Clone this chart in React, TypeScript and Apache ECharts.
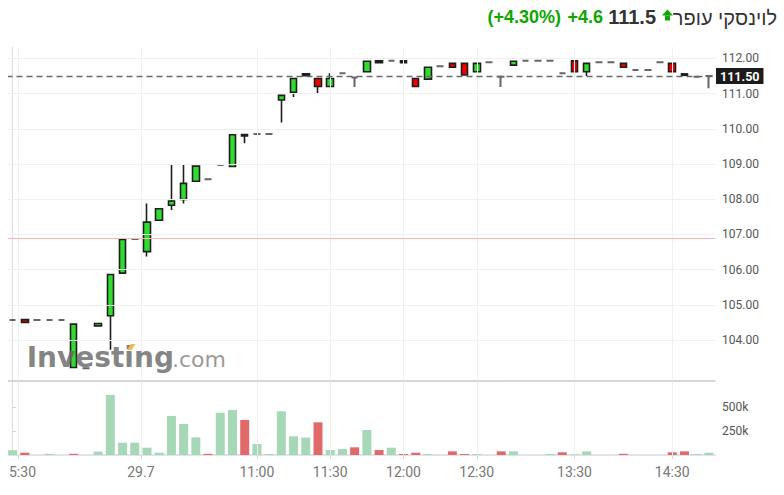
import React, { useEffect, useRef } from "react";
import * as echarts from "echarts";

const categories = [
  "28.7 15:25", "28.7 15:30", "28.7 15:35", "28.7 15:40", "28.7 15:45", "28.7 15:50",
  "28.7 15:55", "28.7 16:00", "28.7 16:05", "28.7 16:10", "28.7 16:15",
  "10:15", "10:20", "10:25", "10:30", "10:35", "10:40", "10:45", "10:50", "10:55", "11:00",
  "11:05", "11:10", "11:15", "11:20", "11:25", "11:30", "11:35", "11:40", "11:45", "11:50", "11:55", "12:00",
  "12:05", "12:10", "12:15", "12:20", "12:25", "12:30",
  "12:35", "12:40", "12:50", "13:00", "13:05", "13:15", "13:25", "13:30",
  "13:35", "13:45", "13:55", "14:00", "14:10", "14:15", "14:25", "14:30",
  "14:35", "14:40", "14:45",
];

// [open, close, low, high]
const candles: number[][] = [
  [104.57, 104.57, 104.57, 104.57],
  [104.58, 104.5, 104.5, 104.58],
  [104.57, 104.57, 104.57, 104.57],
  [104.57, 104.57, 104.57, 104.57],
  [104.57, 104.57, 104.57, 104.57],
  [103.22, 104.45, 103.22, 104.45],
  [103.2, 103.2, 103.2, 103.2],
  [104.4, 104.47, 104.4, 104.47],
  [104.69, 105.86, 103.72, 105.86],
  [105.9, 106.86, 105.9, 106.86],
  [106.87, 106.87, 106.87, 106.87],
  [106.51, 107.35, 106.37, 107.88],
  [107.4, 107.73, 107.4, 107.73],
  [107.83, 107.95, 107.69, 108.97],
  [107.99, 108.45, 107.88, 108.97],
  [108.51, 108.94, 108.51, 108.94],
  [108.57, 108.57, 108.57, 108.57],
  [108.97, 108.97, 108.97, 108.97],
  [108.93, 109.83, 108.93, 109.83],
  [109.84, 109.8, 109.59, 109.84],
  [109.85, 109.85, 109.85, 109.85],
  [109.85, 109.85, 109.85, 109.85],
  [110.82, 110.95, 110.18, 110.95],
  [111.04, 111.43, 110.9, 111.43],
  [111.51, 111.56, 111.51, 111.56],
  [111.43, 111.2, 111.01, 111.43],
  [111.2, 111.43, 111.2, 111.58],
  [111.58, 111.58, 111.58, 111.58],
  [111.46, 111.46, 111.19, 111.46],
  [111.62, 111.92, 111.62, 111.92],
  [111.93, 111.88, 111.88, 111.93],
  [111.93, 111.93, 111.93, 111.93],
  [111.93, 111.88, 111.88, 111.93],
  [111.43, 111.2, 111.2, 111.43],
  [111.41, 111.75, 111.41, 111.75],
  [111.78, 111.78, 111.78, 111.78],
  [111.86, 111.75, 111.75, 111.86],
  [111.86, 111.53, 111.53, 111.86],
  [111.62, 111.86, 111.62, 111.86],
  [111.89, 111.89, 111.89, 111.89],
  [111.48, 111.48, 111.19, 111.48],
  [111.81, 111.92, 111.81, 111.92],
  [111.93, 111.93, 111.93, 111.93],
  [111.93, 111.93, 111.93, 111.93],
  [111.93, 111.93, 111.93, 111.93],
  [111.58, 111.58, 111.58, 111.58],
  [111.93, 111.62, 111.62, 111.93],
  [111.62, 111.86, 111.5, 111.86],
  [111.89, 111.89, 111.89, 111.89],
  [111.89, 111.89, 111.89, 111.89],
  [111.86, 111.75, 111.75, 111.86],
  [111.67, 111.67, 111.67, 111.67],
  [111.67, 111.67, 111.67, 111.67],
  [111.89, 111.89, 111.89, 111.89],
  [111.86, 111.62, 111.62, 111.86],
  [111.56, 111.52, 111.52, 111.56],
  [111.48, 111.48, 111.48, 111.48],
  [111.5, 111.5, 111.15, 111.5],
];

// volume in thousands
const volumes = [
  50, 24, 0, 12, 0, 12, 0, 35, 625, 128, 128, 76, 24, 406, 323, 184, 12, 440, 469, 365,
  115, 10, 455, 195, 181, 340, 52, 62, 80, 260, 52, 76, 10, 24, 10, 0, 38, 10, 10, 0,
  38, 38, 0, 0, 10, 28, 8, 38, 0, 0, 12, 0, 0, 0, 28, 38, 8, 24,
];
// 1 = up (green), -1 = down (red)
const volumeDir = [
  1, -1, 1, 1, 1, -1, 1, 1, 1, 1, 1, 1, 1, 1, 1, 1, -1, 1, 1, -1,
  1, 1, 1, 1, 1, -1, 1, 1, -1, 1, -1, 1, -1, -1, 1, 1, -1, -1, 1, 1,
  -1, 1, 1, 1, 1, -1, 1, 1, 1, 1, -1, 1, 1, 1, -1, -1, 1, 1,
];

const priceTicks = [104, 105, 106, 107, 108, 109, 110, 111, 112];
const volumeTicks = [250, 500];
// time-axis gridlines/ticks, in candle-index units, and their labels
const xLabelAt = [0.5, 10.5, 20, 26, 32, 38, 46, 54];
const xLabelText = ["5:30", "29.7", "11:00", "11:30", "12:00", "12:30", "13:30", "14:30"];

const stockName = "לוינסקי עופר";
const lastPrice = 111.5;
const prevClose = 106.9;
const change = 4.6;
const changePct = 4.3;

export default function App() {
  const ref = useRef<HTMLDivElement>(null);

  useEffect(() => {
    if (!ref.current) return;
    const chart = echarts.init(ref.current, undefined, { renderer: "svg" });

    const n = categories.length;
    const green = "#0ea600";

    const candleData = candles.map((c) => {
      if (c[0] === c[1]) {
        return {
          value: c,
          itemStyle: {
            color: "#666",
            color0: "#666",
            borderColor: "#666",
            borderColor0: "#666",
            borderWidth: 2,
          },
        };
      }
      return { value: c };
    });

    const volData = volumes.map((v, i) => ({
      value: v,
      itemStyle: { color: volumeDir[i] > 0 ? "#a6d8b8" : "#e06a6a" },
    }));

    // the first label sits at the left edge; it is drawn as a graphic text so it stays inside
    const labelFor = (v: number) => {
      for (let k = 1; k < xLabelAt.length; k++) {
        if (Math.abs(xLabelAt[k] - v) < 1e-6) return xLabelText[k];
      }
      return "";
    };

    const option: any = {
      animation: false,
      grid: [
        { left: -1.5, right: 69, top: 47, bottom: 114, outerBoundsMode: "none", containLabel: false },
        { left: -1.5, right: 69, top: 382, bottom: 40, outerBoundsMode: "none", containLabel: false },
      ],
      xAxis: [
        {
          type: "category",
          gridIndex: 0,
          data: categories,
          boundaryGap: true,
          position: "bottom",
          axisLine: { show: true, lineStyle: { color: "#c8c8c8", width: 1.5 } },
          axisTick: { show: false },
          axisLabel: { show: false },
          splitLine: { show: false },
        },
        {
          type: "category",
          gridIndex: 1,
          data: categories,
          boundaryGap: true,
          position: "bottom",
          axisLine: { show: true, lineStyle: { color: "#e2e2ea", width: 2 } },
          axisTick: { show: false },
          axisLabel: { show: false },
          splitLine: { show: false },
        },
        { type: "value", gridIndex: 0, show: false, min: -0.5, max: n - 0.5, position: "top" },
        {
          type: "value",
          gridIndex: 1,
          min: -0.5,
          max: n - 0.5,
          position: "bottom",
          axisLine: { show: false },
          axisTick: {
            show: true,
            customValues: xLabelAt,
            length: 4,
            lineStyle: { color: "#d6d6de" },
          },
          axisLabel: {
            customValues: xLabelAt.slice(1),
            formatter: (v: number) => labelFor(v),
            margin: 10,
            fontSize: 14,
            color: "#777",
            fontFamily: "Roboto",
          },
          splitLine: { show: false },
        },
      ],
      yAxis: [
        {
          type: "value",
          gridIndex: 0,
          position: "right",
          min: 102.835,
          max: 112.324,
          axisLine: { show: true, lineStyle: { color: "#dcdcdc" } },
          axisTick: { show: true, length: 3, lineStyle: { color: "#cfcfcf" }, customValues: priceTicks },
          axisLabel: {
            customValues: priceTicks,
            formatter: (v: number) => v.toFixed(2),
            margin: 7,
            color: "#555",
            fontSize: 12,
            fontFamily: "Roboto",
          },
          splitLine: { show: false },
        },
        {
          type: "value",
          gridIndex: 1,
          position: "right",
          min: 0,
          max: 760,
          axisLine: { show: true, lineStyle: { color: "#dcdcdc" } },
          axisTick: { show: true, length: 3, lineStyle: { color: "#cfcfcf" }, customValues: volumeTicks },
          axisLabel: {
            customValues: volumeTicks,
            formatter: (v: number) => v + "k",
            margin: 7,
            color: "#555",
            fontSize: 12,
            fontFamily: "Roboto",
          },
          splitLine: { show: false },
        },
      ],
      series: [
        {
          type: "line",
          xAxisIndex: 2,
          yAxisIndex: 0,
          data: [[0, 108]],
          symbol: "none",
          lineStyle: { opacity: 0 },
          silent: true,
          z: 0,
          markLine: {
            silent: true,
            symbol: ["none", "none"],
            label: { show: false },
            lineStyle: { color: "#f0f0f0", width: 1, type: "solid" },
            data: [
              ...xLabelAt.map((x) => ({ xAxis: x })),
              ...priceTicks.map((y) => ({ yAxis: y })),
            ],
          },
        },
        {
          type: "line",
          xAxisIndex: 3,
          yAxisIndex: 1,
          data: [[0, 0]],
          symbol: "none",
          lineStyle: { opacity: 0 },
          silent: true,
          z: 0,
          markLine: {
            silent: true,
            symbol: ["none", "none"],
            label: { show: false },
            lineStyle: { color: "#f0f0f0", width: 1, type: "solid" },
            data: xLabelAt.map((x) => ({ xAxis: x })),
          },
        },
        {
          type: "candlestick",
          xAxisIndex: 0,
          yAxisIndex: 0,
          data: candleData,
          barWidth: 7,
          itemStyle: {
            color: "#2fdc2f",
            color0: "#f00000",
            borderColor: "#1e1e1e",
            borderColor0: "#1e1e1e",
            borderWidth: 1.6,
          },
          markLine: {
            silent: true,
            symbol: ["none", "none"],
            data: [
              {
                yAxis: prevClose,
                lineStyle: { color: "#f5b8b8", width: 1, type: "solid" },
                label: { show: false },
              },
              {
                yAxis: lastPrice,
                lineStyle: { color: "#6a6a6a", width: 1.3, type: [6, 4] },
                label: {
                  show: true,
                  position: "end",
                  distance: 1,
                  formatter: lastPrice.toFixed(2),
                  color: "#fff",
                  backgroundColor: "#1b1b1b",
                  fontWeight: "bold",
                  fontSize: 12.5,
                  fontFamily: "Roboto",
                  padding: [2, 4, 1, 4],
                },
              },
            ],
          },
        },
        {
          type: "bar",
          xAxisIndex: 1,
          yAxisIndex: 1,
          data: volData,
          barWidth: 9,
        },
      ],
      graphic: [
        {
          type: "text",
          z: 100,
          x: 1,
          y: 472,
          style: {
            text: xLabelText[0],
            fill: "#777",
            fontSize: 14,
            fontFamily: "Roboto",
            align: "left",
            textAlign: "left",
            verticalAlign: "middle",
            textVerticalAlign: "middle",
          },
        },
        {
          type: "text",
          z: 100,
          x: 18.7,
          y: 357,
          style: {
            text: "Investing",
            fill: "rgba(105,105,105,0.82)",
            fontSize: 28,
            fontWeight: "bold",
            fontFamily: "DejaVu Sans",
            align: "left",
            textAlign: "left",
            verticalAlign: "middle",
            textVerticalAlign: "middle",
          },
        },
        {
          type: "text",
          z: 100,
          x: 164,
          y: 359,
          style: {
            text: ".com",
            fill: "rgba(125,125,125,0.8)",
            fontSize: 22,
            fontFamily: "DejaVu Sans",
            align: "left",
            textAlign: "left",
            verticalAlign: "middle",
            textVerticalAlign: "middle",
          },
        },
        {
          type: "polygon",
          z: 101,
          shape: { points: [[119, 350], [123, 344], [127.5, 344], [123.5, 350]] },
          style: { fill: "#f7b84a" },
        },
        {
          type: "text",
          z: 100,
          x: 769,
          y: 18,
          style: {
            text: stockName,
            fill: "#333",
            fontSize: 20,
            fontFamily: "Liberation Sans",
            align: "right",
            textAlign: "right",
            verticalAlign: "middle",
            textVerticalAlign: "middle",
          },
        },
        {
          type: "polygon",
          z: 100,
          shape: { points: [[654, 15.5], [659.5, 9.5], [665, 15.5]] },
          style: { fill: green },
        },
        {
          type: "rect",
          z: 100,
          shape: { x: 657, y: 15.5, width: 5, height: 5 },
          style: { fill: green },
        },
        {
          type: "text",
          z: 100,
          x: 648,
          y: 17,
          style: {
            text: lastPrice.toFixed(1),
            fill: "#333",
            fontSize: 20,
            fontWeight: "bold",
            fontFamily: "Liberation Sans",
            align: "right",
            textAlign: "right",
            verticalAlign: "middle",
            textVerticalAlign: "middle",
          },
        },
        {
          type: "text",
          z: 100,
          x: 595,
          y: 17,
          style: {
            text: "+" + change.toFixed(1),
            fill: green,
            fontSize: 18,
            fontWeight: "bold",
            fontFamily: "Liberation Sans",
            align: "right",
            textAlign: "right",
            verticalAlign: "middle",
            textVerticalAlign: "middle",
          },
        },
        {
          type: "text",
          z: 100,
          x: 553,
          y: 17,
          style: {
            text: "(+" + changePct.toFixed(2) + "%)",
            fill: green,
            fontSize: 18,
            fontWeight: "bold",
            fontFamily: "Liberation Sans",
            align: "right",
            textAlign: "right",
            verticalAlign: "middle",
            textVerticalAlign: "middle",
          },
        },
      ],
    };

    chart.setOption(option);
    return () => {
      chart.dispose();
    };
  }, []);

  return (
    <div
      ref={ref}
      style={{ position: "absolute", left: 8, top: 0, width: 776, height: 495 }}
    />
  );
}
